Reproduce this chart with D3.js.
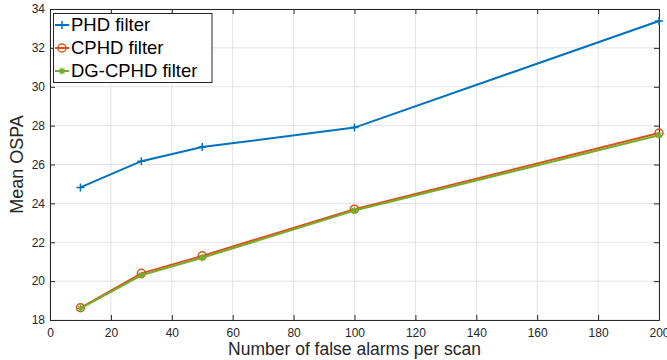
<!DOCTYPE html>
<html><head><meta charset="utf-8">
<script src="https://cdn.jsdelivr.net/npm/d3@7"></script>
<style>body{margin:0;background:#fff}svg{display:block;font-family:"Liberation Sans",Arial,sans-serif}</style>
</head><body>
<svg id="c" width="667" height="360"></svg>
<script>
const xValues = [10, 30, 50, 100, 200];
const phd = [24.82, 26.17, 26.9, 27.9, 33.38];
const cphd = [18.63, 20.4, 21.3, 23.7, 27.62];
const dgcphd = [18.6, 20.3, 21.2, 23.63, 27.5];
const seriesNames = ["PHD filter", "CPHD filter", "DG-CPHD filter"];
const seriesColors = ["#0072BD", "#D95319", "#77AC30"];
const markers = ["plus", "circle", "star"];
const xTicks = [0,20,40,60,80,100,120,140,160,180,200];
const yTicks = [18,20,22,24,26,28,30,32,34];
const xLabel = "Number of false alarms per scan";
const yLabel = "Mean OSPA";

const svg = d3.select("#c");
const L = 50, R = 659, T = 9, B = 320;
const x = d3.scaleLinear().domain([0,200]).range([L,R]);
const y = d3.scaleLinear().domain([18,34]).range([B,T]);
const axisColor = "#262626";

// grid
const g = svg.append("g");
g.selectAll(".gx").data(xTicks).join("line")
  .attr("x1", d=>x(d)).attr("x2", d=>x(d)).attr("y1", T).attr("y2", B)
  .attr("stroke", "#e3e3e3").attr("stroke-width", 1);
g.selectAll(".gy").data(yTicks).join("line")
  .attr("y1", d=>y(d)).attr("y2", d=>y(d)).attr("x1", L).attr("x2", R)
  .attr("stroke", "#e3e3e3").attr("stroke-width", 1);

// axes (ticks inward)
const tk = 5;
const ax = svg.append("g").attr("transform", `translate(0,${B})`)
  .call(d3.axisBottom(x).tickValues(xTicks).tickSizeInner(-tk).tickSizeOuter(0).tickPadding(8));
const axTop = svg.append("g").attr("transform", `translate(0,${T})`)
  .call(d3.axisTop(x).tickValues(xTicks).tickSizeInner(-tk).tickSizeOuter(0).tickFormat(""));
const ay = svg.append("g").attr("transform", `translate(${L},0)`)
  .call(d3.axisLeft(y).tickValues(yTicks).tickSizeInner(-tk).tickSizeOuter(0).tickPadding(5));
const ayR = svg.append("g").attr("transform", `translate(${R},0)`)
  .call(d3.axisRight(y).tickValues(yTicks).tickSizeInner(-tk).tickSizeOuter(0).tickFormat(""));
[ax, axTop, ay, ayR].forEach(a => {
  a.selectAll("path,line").attr("stroke", axisColor).attr("stroke-width", 1);
  a.selectAll("text").attr("fill", "#262626").style("font-size", "12px").style("font-family", '"Liberation Sans",Arial,sans-serif');
});
ax.selectAll("text").attr("dy", "0.71em");

// labels
svg.append("text").attr("x", (L+R)/2).attr("y", 355).attr("text-anchor", "middle")
  .attr("fill", "#262626").style("font-size", "17.5px").text(xLabel);
svg.append("text").attr("transform", `translate(23,${(T+B)/2}) rotate(-90)`).attr("text-anchor", "middle")
  .attr("fill", "#262626").style("font-size", "18px").text(yLabel);

const data = [phd, cphd, dgcphd];
function drawMarker(sel, type, color) {
  if (type === "plus") {
    sel.append("path").attr("d", "M-4,0H4M0,-4V4").attr("stroke", color).attr("stroke-width", 1.5).attr("fill", "none");
  } else if (type === "circle") {
    sel.append("circle").attr("r", 4).attr("stroke", color).attr("stroke-width", 1.5).attr("fill", "none");
  } else {
    sel.append("path").attr("d", "M-3.5,0H3.5M0,-3.5V3.5M-2.5,-2.5L2.5,2.5M-2.5,2.5L2.5,-2.5").attr("stroke", color).attr("stroke-width", 1.3).attr("fill", "none");
  }
}
const line = d3.line().x((d,i)=>x(xValues[i])).y(d=>y(d));
data.forEach((s, k) => {
  svg.append("path").datum(s).attr("d", line).attr("fill", "none")
    .attr("stroke", seriesColors[k]).attr("stroke-width", 2);
  svg.selectAll(null).data(s).join("g")
    .attr("transform", (d,i)=>`translate(${x(xValues[i])},${y(d)})`)
    .each(function(){ drawMarker(d3.select(this), markers[k], seriesColors[k]); });
});

// legend
const lg = svg.append("g");
lg.append("rect").attr("x", 53.5).attr("y", 13.5).attr("width", 158.5).attr("height", 69)
  .attr("fill", "#fff").attr("stroke", axisColor).attr("stroke-width", 1);
seriesNames.forEach((n, k) => {
  const cy = 25 + k*23;
  lg.append("line").attr("x1", 55).attr("x2", 69).attr("y1", cy).attr("y2", cy)
    .attr("stroke", seriesColors[k]).attr("stroke-width", 2);
  const m = lg.append("g").attr("transform", `translate(62,${cy})`);
  drawMarker(m, markers[k], seriesColors[k]);
  lg.append("text").attr("x", 71).attr("y", cy).attr("dy", "0.35em").attr("fill", "#000")
    .style("font-size", "18.5px").text(n);
});
</script>
</body></html>
